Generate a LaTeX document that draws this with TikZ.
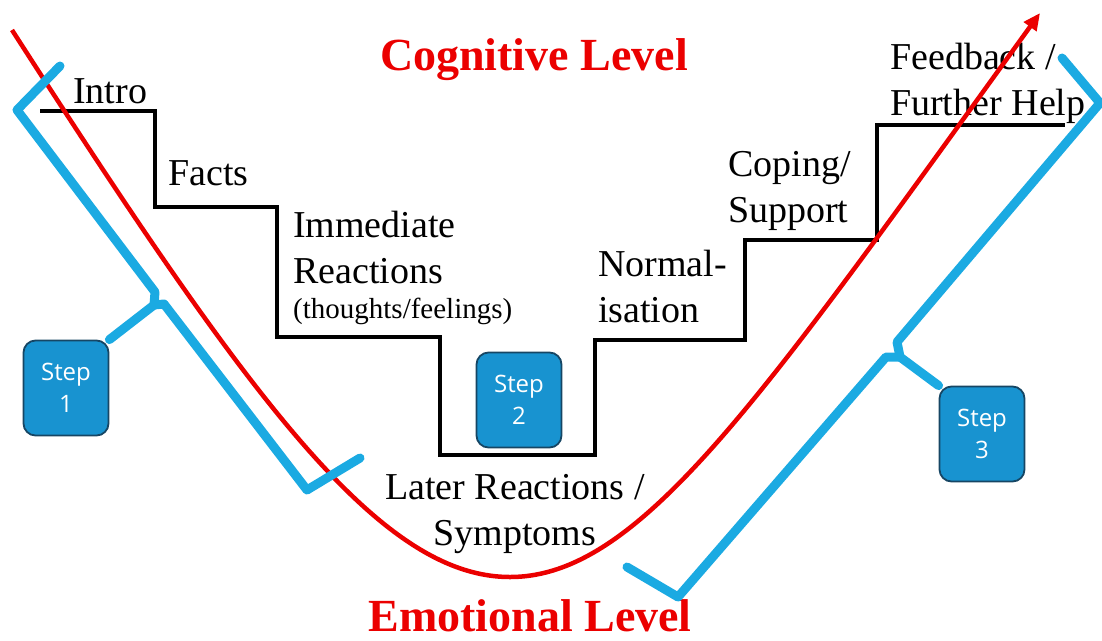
\documentclass[tikz,border=0pt]{standalone}
\usepackage{fontspec}
\setmainfont{Liberation Serif}
\newfontfamily\stepfont{Open Sans}
\usetikzlibrary{arrows.meta}
\definecolor{bracecol}{RGB}{27,170,226}
\definecolor{stepfill}{RGB}{24,147,208}
\definecolor{stepline}{RGB}{22,70,100}
\definecolor{levelred}{RGB}{235,0,0}
\newcommand{\stairfont}{\fontsize{38}{46}\selectfont}
\tikzset{
  stepbox/.style={draw=stepline, line width=1.8pt, fill=stepfill, rounded corners=12pt,
    minimum width=85pt, minimum height=95pt, inner sep=0pt, text=white, align=center,
    font=\stepfont\fontsize{24}{32}\selectfont},
  stairtxt/.style={anchor=base west, align=left, inner sep=0pt, font=\stairfont},
  leveltxt/.style={anchor=base, inner sep=0pt, text=levelred, font=\bfseries\fontsize{46}{50}\selectfont},
  bracket/.style={draw=bracecol, line width=9pt, line join=round, line cap=round},
}

\begin{document}
\begin{tikzpicture}[x=1pt,y=-1pt]
\useasboundingbox (0,0) rectangle (1102,640);

% the stairs
\draw[line width=4pt] (40,111) -| (155,207) -| (277,337) -| (440,455) -| (595,340)
  -| (745,240) -| (877,125) -- (1065,125);

% multi-line nodes sit on their last line
\node[stairtxt] (intro) at (73,103) {Intro};
\node[stairtxt] (facts) at (168,185) {Facts};
\node[stairtxt] (immed) at (293,283) {Immediate\\Reactions};
\node[stairtxt, font=\fontsize{29}{34}\selectfont] (thoughts) at (293,318) {(thoughts/feelings)};
\node[anchor=base, align=center, inner sep=0pt, font=\stairfont] (later) at (515,545) {Later Reactions /\\Symptoms};
\node[stairtxt] (normal) at (598,322) {Normal-\\isation};
\node[stairtxt] (coping) at (728,222) {Coping/\\Support};
\node[stairtxt] (feedback) at (890,115) {Feedback /\\Further Help};

\node[leveltxt] (cog) at (534,70) {Cognitive Level};
\node[leveltxt] (emo) at (530,631) {Emotional Level};

% red curve
\draw[levelred, line width=4.5pt, -{Triangle[length=17pt,width=15pt]}]
  (12,30) .. controls (250,400) and (380,577) .. (510,577)
  .. controls (640,577) and (760,400) .. (1040,13);

% steps
\node[stepbox] (step1) at (66,388) {Step\\1};
\node[stepbox] (step2) at (519,400) {Step\\2};
\node[stepbox] (step3) at (982,434) {Step\\3};

% brackets
\draw[bracket] (60,66) -- (17,110) -- (155,292) -- (154,305) -- (step1.north east);
\draw[bracket] (154,305) -- (164,304) -- (307,490) -- (360,458);
\draw[bracket] (1062,58) -- (1100,103) -- (897,342) -- (900,357) -- (step3.north west);
\draw[bracket] (900,357) -- (886,357) -- (678,597) -- (627,567);
\end{tikzpicture}
\end{document}
